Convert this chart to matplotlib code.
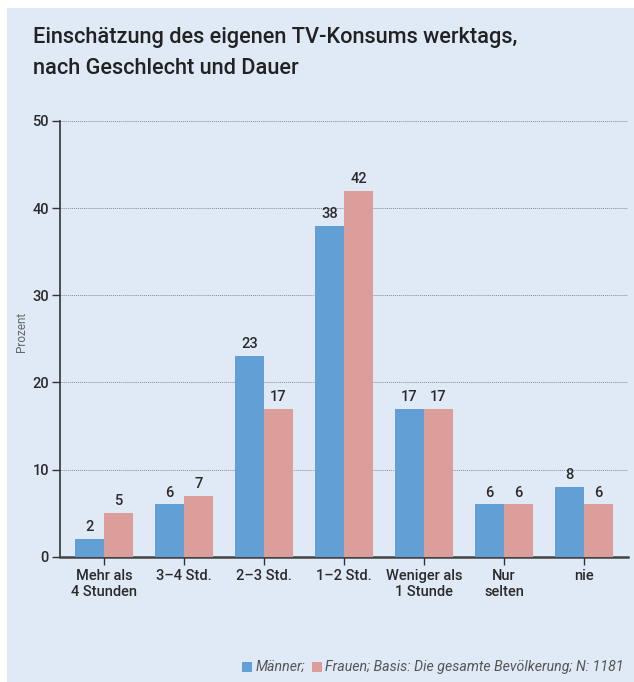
import matplotlib
matplotlib.use("Agg")
import matplotlib.pyplot as plt
import numpy as np
from matplotlib.patches import Rectangle
from matplotlib import font_manager

categories = ["Mehr als\n4 Stunden", "3–4 Std.", "2–3 Std.", "1–2 Std.", "Weniger als\n1 Stunde", "Nur\nselten", "nie"]
maenner = [2, 6, 23, 38, 17, 6, 8]
frauen = [5, 7, 17, 42, 17, 6, 6]
yticks = [0, 10, 20, 30, 40, 50]

names = {f.name for f in font_manager.fontManager.ttflist}
fam = "Liberation Sans Narrow" if "Liberation Sans Narrow" in names else "Roboto"
plt.rcParams['font.family'] = [fam, 'DejaVu Sans']

W, H = 634, 682
fig = plt.figure(figsize=(W / 100, H / 100), dpi=100)
fig.patch.set_facecolor("white")
bg = "#E0EAF6"
bgax = fig.add_axes([7 / W, 0, 1 - 7 / W, 1 - 8 / H], zorder=-5)
bgax.set_facecolor(bg)
bgax.set_xticks([]); bgax.set_yticks([])
for s in bgax.spines.values():
    s.set_visible(False)

ax = fig.add_axes([60 / W, 125.3 / H, (628 - 60) / W, (561 - 125.3) / H], zorder=1)
ax.set_facecolor("none")

blue = "#629FD5"
pink = "#DC9E9A"
txt = "#2a2a2a"
x = np.arange(len(categories))
bw = 0.3625
ax.bar(x - bw / 2, maenner, bw, color=blue, zorder=3)
ax.bar(x + bw / 2, frauen, bw, color=pink, zorder=3)

for xi, v in zip(x - bw / 2, maenner):
    ax.text(xi, v + 0.55, str(v), ha="center", va="bottom", fontsize=10.5, fontweight="medium", color=txt)
for xi, v in zip(x + bw / 2, frauen):
    ax.text(xi, v + 0.55, str(v), ha="center", va="bottom", fontsize=10.5, fontweight="medium", color=txt)

ax.set_xlim(-0.55, len(categories) - 0.45)
ax.set_ylim(0, 50)
ax.set_yticks(yticks)
ax.set_yticklabels([str(t) for t in yticks], fontsize=10.5, fontweight="medium", color=txt)
ax.set_xticks(x)
ax.set_xticklabels(categories, fontsize=10.5, fontweight="medium", color=txt, linespacing=1.2)
for t in yticks[1:]:
    ax.axhline(t, color="#8a8a8a", lw=0.7, ls=(0, (1, 1)), zorder=1)

for s in ["top", "right"]:
    ax.spines[s].set_visible(False)
ax.spines["left"].set_color("#333333")
ax.spines["bottom"].set_color("#444444")
ax.spines["left"].set_linewidth(1.2)
ax.spines["bottom"].set_linewidth(1.8)
ax.tick_params(axis="y", length=6, width=1, color="#333333", pad=2)
ax.tick_params(axis="x", length=6, width=1, color="#333333", pad=2.5)
ax.set_ylabel("Prozent", fontsize=8.5, color="#666666", labelpad=0)
ax.yaxis.set_label_coords(22 / W, 1 - 332 / H, transform=fig.transFigure)
ax.yaxis.label.set_va("center")

fig.text(33 / W, 1 - 37 / H, "Einschätzung des eigenen TV-Konsums werktags,", fontsize=15.7,
         fontweight="medium", color="#222222", va="center", ha="left")
fig.text(33 / W, 1 - 69 / H, "nach Geschlecht und Dauer", fontsize=15.7,
         fontweight="medium", color="#222222", va="center", ha="left")

# legend line
fig.text(256 / W, 1 - 667 / H, "Männer;", fontsize=10.2, style="italic", color="#555555", va="center", ha="left")
fig.text(325 / W, 1 - 667 / H, "Frauen; Basis: Die gesamte Bevölkerung; N: 1181", fontsize=10.2,
         style="italic", color="#555555", va="center", ha="left")
fig.patches.append(Rectangle((242 / W, 1 - 672 / H), 10 / W, 10 / H, transform=fig.transFigure,
                             facecolor=blue, edgecolor="none", zorder=5))
fig.patches.append(Rectangle((312 / W, 1 - 672 / H), 10 / W, 10 / H, transform=fig.transFigure,
                             facecolor=pink, edgecolor="none", zorder=5))

fig.savefig("out.png", dpi=100)
